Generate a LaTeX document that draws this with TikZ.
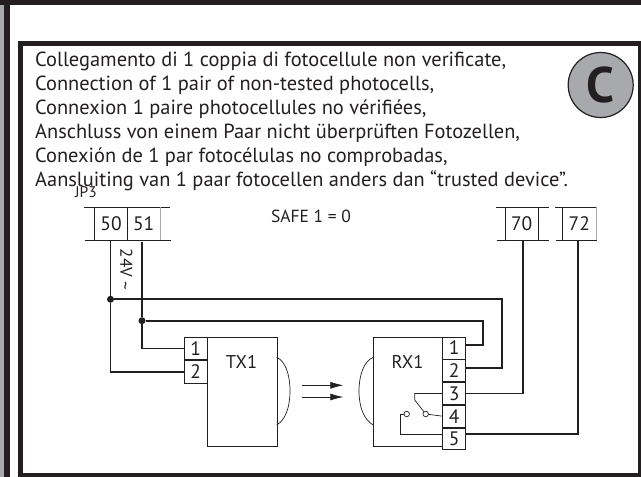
\documentclass[tikz,border=0pt]{standalone}
\usepackage{fontspec}
\usetikzlibrary{arrows.meta}
\setmainfont{PT Sans}
\definecolor{inkblk}{HTML}{231F20}
\definecolor{bandgray}{HTML}{A7A9AC}
\tikzset{
	cell/.style={draw=inkblk,line width=0.7pt,rectangle,inner sep=0pt,text=inkblk,font=\fontsize{19.5}{22}\selectfont},
	rail/.style={draw=inkblk,line width=0.7pt},
	wire/.style={draw=inkblk,line width=1.7pt},
	thinwire/.style={draw=inkblk,line width=0.7pt},
	junction/.style={circle,fill=inkblk,inner sep=0pt,minimum size=7pt},
	contact/.style={circle,draw=inkblk,fill=white,line width=0.7pt,inner sep=0pt,minimum size=5.5pt},
	label/.style={text=inkblk,inner sep=0pt,font=\fontsize{17.5}{20}\selectfont}
}
\begin{document}
\begin{tikzpicture}[x=1pt,y=-1pt]
	\useasboundingbox (0,0) rectangle (641,477);
	% page edges and frame
	\fill[bandgray] (0,0) rectangle (4,477);
	\fill[inkblk] (4,0) rectangle (9.5,477);
	\fill[inkblk] (0,0) rectangle (641,4.7);
	\draw[inkblk,line width=5pt] (20.8,43.5) rectangle (640,475);
	\draw[inkblk,line width=1pt] (638,43.5) -- (638,477);
	% header text
	\node[anchor=north west,align=left,inner sep=0pt,text=inkblk,font=\fontsize{20.4}{24}\selectfont] (header) at (35,51.5) {Collegamento di 1 coppia di fotocellule non verificate,\\
		Connection of 1 pair of non-tested photocells,\\
		Connexion 1 paire photocellules no vérifiées,\\
		Anschluss von einem Paar nicht überprüften Fotozellen,\\
		Conexión de 1 par fotocélulas no comprobadas,\\
		Aansluiting van 1 paar fotocellen anders dan “trusted device”.};
	\node[circle,draw=inkblk,fill=bandgray,line width=1.2pt,minimum size=65pt,inner sep=0pt,text=inkblk,font=\fontsize{50}{50}\bfseries\selectfont] (badge) at (600.7,85) {C};
	\node[label,font=\fontsize{15.5}{18}\selectfont] (jp3) at (86,192.5) {JP3};
	\node[label] (safe) at (311,216) {SAFE 1 = 0};
	% terminal blocks
	\node[cell,minimum width=32.6pt,minimum height=32.7pt] (t50) at (111,223.7) {50};
	\node[cell,minimum width=32.7pt,minimum height=32.7pt] (t51) at (143.65,223.7) {51};
	\node[cell,minimum width=33.3pt,minimum height=32.7pt] (t70) at (521.65,223.7) {70};
	\node[cell,minimum width=33.3pt,minimum height=32.7pt] (t72) at (579.35,223.7) {72};
	\draw[rail] ([xshift=-10.4pt]t50.north west) -- ([xshift=10pt]t51.north east);
	\draw[rail] ([xshift=-9.7pt]t50.south west) -- ([xshift=11pt]t51.south east);
	\draw[rail] ([xshift=-9pt]t70.north west) -- ([xshift=10.7pt]t70.north east);
	\draw[rail] ([xshift=-8pt]t70.south west) -- ([xshift=10.7pt]t70.south east);
	\draw[rail] ([xshift=-7pt]t72.north west) -- (t72.north east);
	\draw[rail] ([xshift=-6.5pt]t72.south west) -- (t72.south east);
	\draw[bandgray,line width=0.7pt] (t51.north east) -- (t51.south east);
	\draw[bandgray,line width=0.7pt] (t72.north east) -- (t72.south east);
	\node[label,rotate=-90,font=\fontsize{17}{20}\selectfont] (volt) at (126,269.5) {24V \raisebox{-1pt}{\textasciitilde}};
	% TX1
	\node[cell,minimum width=69.4pt,minimum height=109.6pt,anchor=north west] (tx) at (207.3,336.7) {};
	\node[label,font=\fontsize{18.5}{20}\selectfont] (txname) at (241.5,361.5) {TX1};
	\node[cell,minimum width=22.6pt,minimum height=22.6pt,anchor=north east] (tx1) at (207.3,336.7) {1};
	\node[cell,minimum width=22.6pt,minimum height=22.7pt,anchor=north] (tx2) at (tx1.south) {2};
	\coordinate (txa) at (276.7,357.3);
	\coordinate (txb) at (276.7,425);
	\draw[thinwire] (txa) .. controls (285.5,361) and (290,375) .. (290,391) .. controls (290,407) and (285.5,420) .. (txb);
	% RX1
	\node[cell,minimum width=69pt,minimum height=109.6pt,anchor=north west] (rx) at (373.3,336.7) {};
	\node[label,font=\fontsize{18.5}{20}\selectfont] (rxname) at (407.5,361.5) {RX1};
	\node[cell,minimum width=23pt,minimum height=22pt,anchor=north west] (rx1) at (442.3,336.7) {1};
	\node[cell,minimum width=23pt,minimum height=22pt,anchor=north] (rx2) at (rx1.south) {2};
	\node[cell,minimum width=23pt,minimum height=22pt,anchor=north] (rx3) at (rx2.south) {3};
	\node[cell,minimum width=23pt,minimum height=22pt,anchor=north] (rx4) at (rx3.south) {4};
	\node[cell,minimum width=23pt,minimum height=21.6pt,anchor=north] (rx5) at (rx4.south) {5};
	\coordinate (rxa) at (373.3,357.3);
	\coordinate (rxb) at (373.3,425);
	\draw[thinwire] (rxa) .. controls (364,361) and (359,375) .. (359,391) .. controls (359,407) and (364,420) .. (rxb);
	% light beams
	\coordinate (beamaa) at (301.7,385.3);
	\coordinate (beamab) at (343.3,385.3);
	\coordinate (beamba) at (301.7,397);
	\coordinate (beambb) at (343.3,397);
	\draw[thinwire,-{Latex[length=13pt,width=7pt]}] (beamaa) -- (beamab);
	\draw[thinwire,-{Latex[length=13pt,width=7pt]}] (beamba) -- (beambb);
	% relay contact
	\node[contact] (cona) at (425.7,414) {};
	\node[contact] (conb) at (406.7,414) {};
	\coordinate (hinge) at (414.7,400);
	\draw[thinwire] (rx3.west) -| (hinge) -- (cona);
	\draw[thinwire] (cona) -- (rx4.west);
	\draw[thinwire] (conb) -| (400.3,434.3) -- (rx5.west |- 400.3,434.3);
	% wiring
	\node[junction] (j50) at (110.5,299.3) {};
	\node[junction] (j51) at (142,320.7) {};
	\coordinate (w51) at (142,242);
	\draw[wire] (t50.south -| j50) -- (j50);
	\draw[wire] (w51) -- (j51);
	\draw[wire] (j50) |- (tx2.west);
	\draw[wire] (j51) |- (tx1.west);
	\draw[wire] (j50) -| (502.3,367.7) -- (rx2.east |- 502.3,367.7);
	\draw[wire] (j51) -| (482.7,345.3) -- (rx1.east |- 482.7,345.3);
	\draw[wire] (rx3.east) -| (t70.south -| 523,240);
	\draw[wire] (rx5.east |- 578,434.3) -| (t72.south -| 578,240);
\end{tikzpicture}
\end{document}
